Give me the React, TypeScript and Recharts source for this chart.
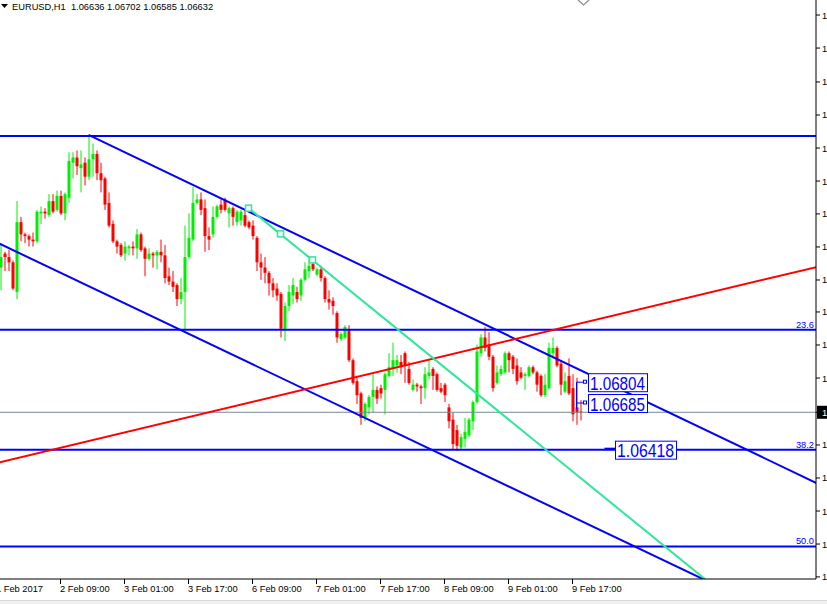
import React from "react";
import { ComposedChart, Bar, XAxis, YAxis, ReferenceLine, ReferenceDot } from "recharts";

const FONT = "'Liberation Sans', Arial, sans-serif";
const BLUE = "#0000ff";
const UP = "#00ee00";
const DOWN = "#ff0000";
const SPRING = "#2fe69b";

const CHART_W = 827;
const CHART_H = 600;
const Y_AXIS_W = 11;
const X_AXIS_H = 21;

// EURUSD H1 candles, left to right (first one sits on the left edge of the window)
const opens = [
  1.0746, 1.0754, 1.0752, 1.0749, 1.0732, 1.0772, 1.0765, 1.0764, 1.0762, 1.0761,
  1.0777, 1.0778, 1.0776, 1.0784, 1.0779, 1.0787, 1.0777, 1.0786, 1.0806, 1.0809,
  1.0803, 1.0806, 1.0798, 1.0808, 1.0811, 1.0800, 1.0797, 1.0783, 1.0771, 1.0761,
  1.0759, 1.0754, 1.0757, 1.0758, 1.0757, 1.0765, 1.0757, 1.0751, 1.0754, 1.0753,
  1.0755, 1.0753, 1.0741, 1.0738, 1.0736, 1.0728, 1.0732, 1.0752, 1.0762, 1.0783,
  1.0785, 1.0780, 1.0764, 1.0765, 1.0775, 1.0782, 1.0785, 1.0777, 1.0780, 1.0772,
  1.0773, 1.0776, 1.0772, 1.0770, 1.0763, 1.0749, 1.0746, 1.0743, 1.0737, 1.0734,
  1.0731, 1.0711, 1.0724, 1.0730, 1.0732, 1.0730, 1.0739, 1.0744, 1.0748, 1.0742,
  1.0745, 1.0740, 1.0728, 1.0727, 1.0720, 1.0705, 1.0706, 1.0710, 1.0693, 1.0681,
  1.0674, 1.0660, 1.0666, 1.0672, 1.0676, 1.0677, 1.0676, 1.0684, 1.0688, 1.0690,
  1.0692, 1.0697, 1.0688, 1.0676, 1.0679, 1.0678, 1.0677, 1.0684, 1.0688, 1.0685,
  1.0677, 1.0679, 1.0666, 1.0659, 1.0653, 1.0643, 1.0648, 1.0650, 1.0658, 1.0669,
  1.0697, 1.0706, 1.0702, 1.0695, 1.0680, 1.0685, 1.0686, 1.0697, 1.0695, 1.0690,
  1.0686, 1.0684, 1.0684, 1.0689, 1.0686, 1.0684, 1.0673, 1.0677, 1.0697, 1.0700,
  1.0691, 1.0675, 1.0684, 1.0677, 1.0666, 1.06636,
];
const highs = [
  1.0759, 1.0755, 1.0756, 1.0750, 1.0784, 1.0775, 1.0766, 1.0765, 1.0766, 1.0779,
  1.0781, 1.0780, 1.0788, 1.0788, 1.0790, 1.0790, 1.0789, 1.0812, 1.0812, 1.0813,
  1.0813, 1.0809, 1.0821, 1.0817, 1.0813, 1.0806, 1.0798, 1.0789, 1.0773, 1.0762,
  1.0760, 1.0761, 1.0759, 1.0761, 1.0768, 1.0766, 1.0758, 1.0757, 1.0755, 1.0756,
  1.0762, 1.0759, 1.0746, 1.0744, 1.0737, 1.0740, 1.0770, 1.0777, 1.0792, 1.0788,
  1.0789, 1.0785, 1.0769, 1.0781, 1.0782, 1.0785, 1.0786, 1.0781, 1.0781, 1.0779,
  1.0779, 1.0779, 1.0773, 1.0773, 1.0764, 1.0754, 1.0752, 1.0744, 1.0740, 1.0737,
  1.0732, 1.0726, 1.0736, 1.0740, 1.0735, 1.0740, 1.0749, 1.0751, 1.0750, 1.0746,
  1.0747, 1.0741, 1.0733, 1.0729, 1.0721, 1.0709, 1.0713, 1.0713, 1.0694, 1.0683,
  1.0675, 1.0669, 1.0673, 1.0685, 1.0678, 1.0679, 1.0686, 1.0697, 1.0703, 1.0696,
  1.0696, 1.0698, 1.0692, 1.0682, 1.0680, 1.0679, 1.0689, 1.0693, 1.0689, 1.0686,
  1.0680, 1.0680, 1.0668, 1.0663, 1.0656, 1.0651, 1.0660, 1.0660, 1.0670, 1.0702,
  1.0708, 1.0712, 1.0709, 1.0696, 1.0690, 1.0690, 1.0698, 1.0698, 1.0696, 1.0694,
  1.0689, 1.0686, 1.0690, 1.0690, 1.0687, 1.0685, 1.0685, 1.0703, 1.0706, 1.0701,
  1.0693, 1.0686, 1.0694, 1.0685, 1.0683, 1.06702,
];
const lows = [
  1.0733, 1.0744, 1.0744, 1.0733, 1.0728, 1.0761, 1.0760, 1.0758, 1.0758, 1.0760,
  1.0771, 1.0774, 1.0775, 1.0777, 1.0778, 1.0776, 1.0773, 1.0783, 1.0797, 1.0799,
  1.0789, 1.0793, 1.0796, 1.0798, 1.0796, 1.0789, 1.0779, 1.0769, 1.0760, 1.0754,
  1.0752, 1.0750, 1.0753, 1.0753, 1.0751, 1.0755, 1.0741, 1.0750, 1.0746, 1.0745,
  1.0749, 1.0737, 1.0736, 1.0732, 1.0724, 1.0725, 1.0710, 1.0751, 1.0761, 1.0782,
  1.0776, 1.0755, 1.0756, 1.0763, 1.0774, 1.0777, 1.0778, 1.0769, 1.0770, 1.0770,
  1.0770, 1.0769, 1.0768, 1.0762, 1.0744, 1.0739, 1.0737, 1.0730, 1.0729, 1.0727,
  1.0706, 1.0704, 1.0721, 1.0725, 1.0726, 1.0727, 1.0738, 1.0740, 1.0744, 1.0741,
  1.0738, 1.0726, 1.0722, 1.0719, 1.0703, 1.0704, 1.0705, 1.0692, 1.0679, 1.0668,
  1.0656, 1.0658, 1.0662, 1.0663, 1.0668, 1.0671, 1.0662, 1.0683, 1.0684, 1.0686,
  1.0685, 1.0680, 1.0679, 1.0675, 1.0675, 1.0668, 1.0671, 1.0682, 1.0676, 1.0675,
  1.0674, 1.0669, 1.0654, 1.0642, 1.0641, 1.0642, 1.0643, 1.0649, 1.0653, 1.0668,
  1.0695, 1.0698, 1.0693, 1.0675, 1.0679, 1.0684, 1.0685, 1.0686, 1.0685, 1.0679,
  1.0682, 1.0676, 1.0683, 1.0685, 1.0675, 1.0672, 1.0672, 1.0676, 1.0694, 1.0689,
  1.0673, 1.0674, 1.0673, 1.0658, 1.0656, 1.06585,
];
const closes = [
  1.0752, 1.0752, 1.0749, 1.0734, 1.0772, 1.0765, 1.0764, 1.0762, 1.0761, 1.0778,
  1.0778, 1.0777, 1.0784, 1.0778, 1.0787, 1.0777, 1.0788, 1.0807, 1.0809, 1.0804,
  1.0805, 1.0798, 1.0808, 1.0811, 1.0800, 1.0796, 1.0782, 1.0770, 1.0761, 1.0758,
  1.0753, 1.0758, 1.0758, 1.0757, 1.0765, 1.0756, 1.0751, 1.0754, 1.0753, 1.0755,
  1.0753, 1.0740, 1.0738, 1.0735, 1.0728, 1.0732, 1.0752, 1.0763, 1.0783, 1.0785,
  1.0779, 1.0764, 1.0762, 1.0775, 1.0781, 1.0779, 1.0779, 1.0780, 1.0775, 1.0778,
  1.0778, 1.0770, 1.0769, 1.0764, 1.0749, 1.0746, 1.0743, 1.0737, 1.0733, 1.0730,
  1.0711, 1.0724, 1.0732, 1.0736, 1.0728, 1.0739, 1.0745, 1.0747, 1.0745, 1.0745,
  1.0740, 1.0728, 1.0726, 1.0724, 1.0706, 1.0708, 1.0712, 1.0693, 1.0680, 1.0673,
  1.0660, 1.0668, 1.0672, 1.0676, 1.0671, 1.0674, 1.0685, 1.0689, 1.0693, 1.0693,
  1.0689, 1.0690, 1.0680, 1.0679, 1.0678, 1.0677, 1.0685, 1.0686, 1.0684, 1.0676,
  1.0675, 1.0673, 1.0658, 1.0645, 1.0644, 1.0649, 1.0652, 1.0659, 1.0669, 1.0698,
  1.0706, 1.0700, 1.0695, 1.0677, 1.0686, 1.0688, 1.0697, 1.0693, 1.0688, 1.0681,
  1.0683, 1.0685, 1.0689, 1.0686, 1.0679, 1.0673, 1.0679, 1.0700, 1.0700, 1.0690,
  1.0679, 1.0681, 1.0674, 1.0662, 1.0663, 1.06632,
];

// time axis: one label every 16 hourly slots
const timeSlots = [0, 16, 32, 48, 64, 80, 96, 112, 128, 144];
const timeLabels = [
  "1 Feb 2017", "2 Feb 09:00", "3 Feb 01:00", "3 Feb 17:00", "6 Feb 09:00",
  "7 Feb 01:00", "7 Feb 17:00", "8 Feb 09:00", "9 Feb 01:00", "9 Feb 17:00",
];

const priceTicks = [
  1.0569, 1.05878, 1.06067, 1.06256, 1.06445, 1.06632, 1.06828, 1.07017, 1.07206,
  1.07389, 1.07578, 1.07767, 1.07955, 1.08144, 1.08333, 1.08522, 1.08716, 1.08905,
];
const lastPrice = 1.06632;

const fibLevels = [1.08213, 1.07104, 1.06418, 1.05864];
const fibNames = ["", "23.6", "38.2", "50.0"];

const SLOTS = 206;
const data = Array.from({ length: SLOTS }, (_, i) => {
  const k = i - 1;
  if (k < 0 || k >= opens.length) return { i, range: null };
  return { i, o: opens[k], h: highs[k], l: lows[k], c: closes[k], range: [lows[k], highs[k]] };
});

const Candle = (props: any) => {
  const { x, y, width, height, payload } = props;
  if (!payload || payload.o == null || height == null) return null;
  const top = Math.min(y, y + height);
  const bot = Math.max(y, y + height);
  const span = payload.h - payload.l || 1;
  const py = (p: number) => top + ((payload.h - p) / span) * (bot - top);
  const cx = x + width / 2;
  const yo = py(payload.o);
  const yc = py(payload.c);
  const color = payload.c >= payload.o ? UP : DOWN;
  return (
    <g>
      <line x1={cx} x2={cx} y1={top} y2={bot} stroke={color} strokeWidth={1} />
      <rect x={cx - 1.5} y={Math.min(yo, yc)} width={3} height={Math.max(Math.abs(yo - yc), 1)} fill={color} />
    </g>
  );
};

// straight line through two anchors, stretched beyond them and kept inside the plot
let clipSeq = 0;
const stretched = (back: number, fwd: number) => {
  const id = "trend-clip-" + clipSeq++;
  return (p: any) => {
    const { x1, y1, x2, y2, stroke, strokeWidth } = p;
    const dx = x2 - x1;
    const dy = y2 - y1;
    return (
      <g>
        <defs>
          <clipPath id={id}>
            <rect x={0} y={0} width={CHART_W - Y_AXIS_W} height={CHART_H - X_AXIS_H} />
          </clipPath>
        </defs>
        <line
          clipPath={`url(#${id})`}
          x1={x1 - dx * back} y1={y1 - dy * back}
          x2={x2 + dx * fwd} y2={y2 + dy * fwd}
          stroke={stroke} strokeWidth={strokeWidth}
        />
      </g>
    );
  };
};

const priceBox = (label: string, lead: number, boxW: number, down = 0, thick = false) => (p: any) => {
  const { cx, cy } = p;
  const bx = cx + lead;
  return (
    <g>
      {down ? <line x1={cx} x2={cx} y1={cy} y2={cy + down} stroke={BLUE} strokeWidth={1} /> : null}
      {thick ? (
        <line x1={cx} x2={bx} y1={cy - 1} y2={cy - 1} stroke={BLUE} strokeWidth={2} />
      ) : (
        <>
          <line x1={cx} x2={bx - 4} y1={cy} y2={cy} stroke={BLUE} strokeWidth={1} />
          <rect x={bx - 4.5} y={cy - 2} width={3} height={3} fill="#fff" stroke={BLUE} strokeWidth={1} />
        </>
      )}
      <rect x={bx + 0.5} y={cy - 8.5} width={boxW} height={18} fill="#fff" stroke={BLUE} strokeWidth={1} />
      <text
        x={bx + 2} y={cy + 7.5} fontSize={18.5} fontFamily={FONT} fill={BLUE}
        textLength={boxW - 4} lengthAdjust="spacingAndGlyphs"
      >
        {label}
      </text>
    </g>
  );
};

const anchorSquare = (p: any) => (
  <rect x={p.cx - 3} y={p.cy - 3} width={6} height={6} fill="#fff" stroke={SPRING} strokeWidth={1.5} />
);

const TimeTick = (p: any) => {
  const idx = timeSlots.indexOf(p.payload.value);
  return (
    <text x={p.x - 0.5} y={p.y + 6} fontSize={9.3} fontFamily={FONT} fill="#000">
      {idx >= 0 ? timeLabels[idx] : ""}
    </text>
  );
};

const PriceTick = (p: any) => {
  const v = p.payload.value;
  if (v === lastPrice) {
    return (
      <g>
        <rect x={p.x - 5} y={p.y - 6.5} width={12} height={13} fill="#000" />
        <text x={p.x} y={p.y + 3.5} fontSize={9.3} fontFamily={FONT} fill="#fff">{v.toFixed(5)}</text>
      </g>
    );
  }
  return (
    <text x={p.x} y={p.y + 3.5} fontSize={9.3} fontFamily={FONT} fill="#000">{v.toFixed(5)}</text>
  );
};

const upperChannel = stretched(0, 0);
const lowerChannel = stretched(0.05, 0.5);
const redTrend = stretched(0.02, 0.02);
const springTrend = stretched(0, 0.5);

export default function App() {
  return (
    <div style={{ position: "fixed", left: 0, top: 0, width: 827, height: 604, background: "#fff", overflow: "hidden" }}>
      <ComposedChart width={CHART_W} height={CHART_H} data={data} margin={{ top: 0, right: 0, bottom: 0, left: 0 }}>
        <XAxis
          dataKey="i" type="category" ticks={timeSlots} interval={0}
          padding={{ left: -5.5, right: -2.5 }} height={X_AXIS_H} tickSize={5}
          axisLine={{ stroke: "#000" }} tickLine={{ stroke: "#000" }} tick={<TimeTick />}
        />
        <YAxis
          orientation="right" type="number" domain={[1.05678, 1.08991]} allowDataOverflow
          ticks={priceTicks} interval={0} width={Y_AXIS_W} tickSize={4}
          axisLine={{ stroke: "#000" }} tickLine={{ stroke: "#000" }} tick={<PriceTick />}
        />
        <ReferenceLine y={lastPrice} stroke="#778899" strokeWidth={1} />
        <Bar dataKey="range" barSize={3} isAnimationActive={false} shape={<Candle />} />
        {fibLevels.map((lv, n) => (
          <ReferenceLine
            key={"fib" + n} y={lv} stroke={BLUE} strokeWidth={2}
            label={fibNames[n] ? { value: fibNames[n], position: "insideBottomRight", offset: 2, fill: BLUE, fontSize: 9.3, fontFamily: FONT } : undefined}
          />
        ))}
        <ReferenceLine
          segment={[{ x: 23, y: 1.08219 }, { x: 205, y: 1.06227 }]}
          stroke={BLUE} strokeWidth={2} ifOverflow="visible" shape={upperChannel}
        />
        <ReferenceLine
          segment={[{ x: 1, y: 1.07594 }, { x: 170, y: 1.0575 }]}
          stroke={BLUE} strokeWidth={2} ifOverflow="visible" shape={lowerChannel}
        />
        <ReferenceLine
          segment={[{ x: 1, y: 1.06347 }, { x: 205, y: 1.07463 }]}
          stroke={DOWN} strokeWidth={2} ifOverflow="visible" shape={redTrend}
        />
        <ReferenceLine
          segment={[{ x: 63, y: 1.078 }, { x: 170, y: 1.0581 }]}
          stroke={SPRING} strokeWidth={2} ifOverflow="visible" shape={springTrend}
        />
        <ReferenceDot x={63} y={1.078} r={3} shape={anchorSquare} />
        <ReferenceDot x={71} y={1.07653} r={3} shape={anchorSquare} />
        <ReferenceDot x={79} y={1.07504} r={3} shape={anchorSquare} />
        <ReferenceDot x={145} y={1.06804} r={3} shape={priceBox("1.06804", 11.5, 59, 27)} />
        <ReferenceDot x={145} y={1.06685} r={3} shape={priceBox("1.06685", 11.5, 59)} />
        <ReferenceDot x={152} y={1.06418} r={3} shape={priceBox("1.06418", 10.5, 61, 0, true)} />
      </ComposedChart>
      <svg width={827} height={20} style={{ position: "absolute", left: 0, top: 0 }}>
        <polygon points="1,4 8,4 4.5,8" fill="#000" />
        <text x={12} y={9.5} fontSize={9.3} fontFamily={FONT} fill="#000" style={{ whiteSpace: "pre" }}>
          EURUSD,H1  1.06636 1.06702 1.06585 1.06632
        </text>
        <polyline points="578,0 583.5,5 589,0" fill="none" stroke="#8c8c8c" strokeWidth={1.2} />
      </svg>
      <div style={{ position: "absolute", left: 0, top: 600, width: 827, height: 4, background: "#efefef", borderTop: "1px solid #dadada" }} />
    </div>
  );
}
